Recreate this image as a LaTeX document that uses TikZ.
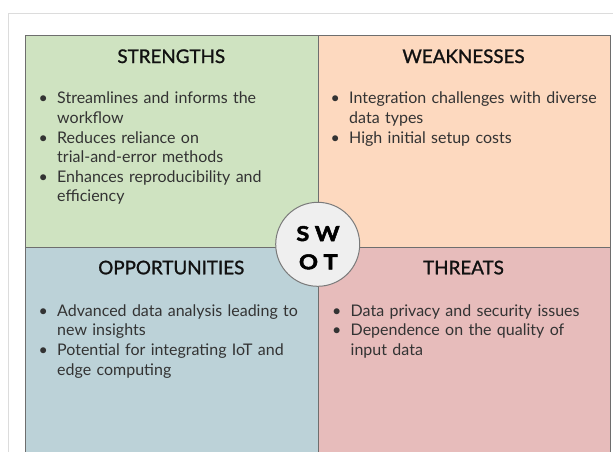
\documentclass[tikz,border=0pt]{standalone}
\usepackage{fontspec}
\setmainfont{Lato}
\newfontfamily\titlefont[FakeBold=1.2]{Lato}
\newfontfamily\swotfont[FakeBold=2.5, FakeStretch=1.15]{Lato}
\definecolor{sgreen}{HTML}{CFE3C1}
\definecolor{wpeach}{HTML}{FDD9BF}
\definecolor{oblue}{HTML}{BCD2D8}
\definecolor{tpink}{HTML}{E7BCBB}
\definecolor{qborder}{HTML}{6E6E6E}
\definecolor{frameline}{HTML}{DCDCDC}
\definecolor{bodytext}{HTML}{333333}
\definecolor{titletext}{HTML}{111111}
\definecolor{circfill}{HTML}{EFEFEF}
\definecolor{circborder}{HTML}{7A7A7A}
\newcommand\bitem[1]{\par\noindent\hangindent=23pt\hangafter=1\makebox[23pt][l]{\hspace{4.5pt}\textbullet}#1\strut\par}
\begin{document}
\begin{tikzpicture}[x=1pt,y=-1pt,
  quad/.style={draw=qborder, line width=1pt, anchor=north west, inner sep=0pt, minimum width=292.5pt},
  qtitle/.style={anchor=base, text=titletext, font=\titlefont\fontsize{18.8}{22}\selectfont, inner sep=0pt},
  qbody/.style={anchor=north west, text=bodytext, text width=275pt, align=left, inner sep=0pt, font=\fontsize{16}{19.6}\selectfont},
  swotcircle/.style={circle, draw=circborder, line width=1pt, fill=circfill, minimum size=84pt, inner sep=0pt},
  swotletters/.style={anchor=base, inner sep=0pt, font=\swotfont\bfseries\fontsize{20.5}{24}\selectfont, text=black}]
\useasboundingbox (0,0) rectangle (613,451);
\clip (0,0) rectangle (613,451);
\draw[frameline, line width=1pt] (8,460) -- (8,13) -- (620,13);
\node[quad, fill=sgreen, minimum height=211.5pt] (S) at (25,35) {};
\node[quad, fill=wpeach, minimum height=211.5pt, minimum width=292pt] (W) at (317.5,35) {};
\node[quad, fill=oblue, minimum height=230pt] (O) at (25,246.5) {};
\node[quad, fill=tpink, minimum height=230pt, minimum width=292pt] (T) at (317.5,246.5) {};
\node[qtitle] (St) at (171.25,63) {STRENGTHS};
\node[qtitle] (Wt) at (463.5,63) {WEAKNESSES};
\node[qtitle] (Ot) at (171.25,274.3) {OPPORTUNITIES};
\node[qtitle] (Tt) at (463.5,274.3) {THREATS};
\node[qbody] (Sb) at (34,84) {%
  \bitem{Streamlines and informs the\newline workflow}%
  \bitem{Reduces reliance on\newline trial-and-error methods}%
  \bitem{Enhances reproducibility and\newline efficiency}};
\node[qbody] (Wb) at (326,84) {%
  \bitem{Integration challenges with diverse\newline data types}%
  \bitem{High initial setup costs}};
\node[qbody] (Ob) at (34,296.5) {%
  \bitem{Advanced data analysis leading to\newline new insights}%
  \bitem{Potential for integrating IoT and\newline edge computing}};
\node[qbody] (Tb) at (327.5,296.5) {%
  \bitem{Data privacy and security issues}%
  \bitem{Dependence on the quality of\newline input data}};
\node[swotcircle] (C) at (317.7,244.3) {};
\node[swotletters] (SW) at (318,241) {S\hspace{5.5pt}W};
\node[swotletters] (OT) at (318.3,269.3) {O\hspace{5.5pt}T};
\end{tikzpicture}
\end{document}
